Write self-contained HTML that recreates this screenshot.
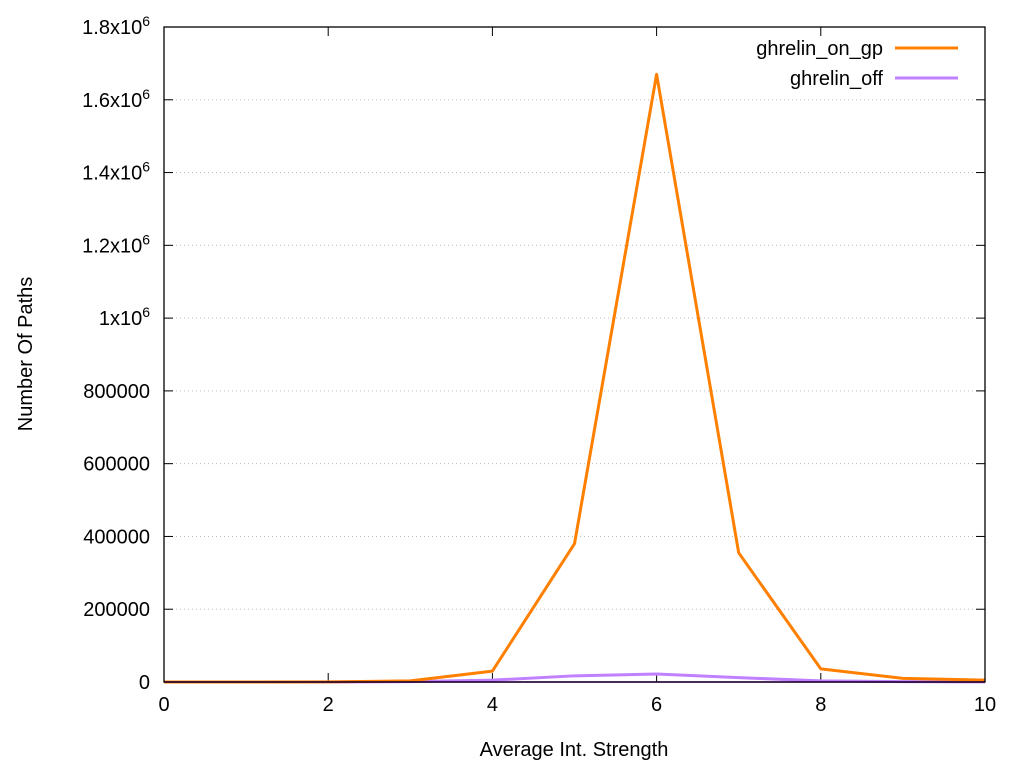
<!DOCTYPE html>
<html><head><meta charset="utf-8"><style>body{margin:0;background:#fff}svg{display:block;font-family:"Liberation Sans",sans-serif}</style></head>
<body>
<svg id="c" width="1024" height="768" xmlns="http://www.w3.org/2000/svg"></svg>
<script>
const xCats=[0,1,2,3,4,5,6,7,8,9,10];
const onGp=[0,0,500,3000,30000,380000,1670000,355000,36000,10000,5000];
const off=[0,0,0,1000,5000,17000,22000,12000,3000,1000,500];
const yTicks=[0,200000,400000,600000,800000,1000000,1200000,1400000,1600000,1800000];
const yLabels=["0","200000","400000","600000","800000","1x10<sup>6</sup>","1.2x10<sup>6</sup>","1.4x10<sup>6</sup>","1.6x10<sup>6</sup>","1.8x10<sup>6</sup>"];
const xTicks=[0,2,4,6,8,10];
const L=164,R=985,T=27,B=682;
const xs=v=>L+(v-0)/10*(R-L), ys=v=>B-v/1800000*(B-T);
const svg=document.getElementById('c');const NS='http://www.w3.org/2000/svg';
function mk(t,a,p){const e=document.createElementNS(NS,t);for(const k in a)e.setAttribute(k,a[k]);(p||svg).appendChild(e);return e;}
yTicks.forEach((v,i)=>{
 if(i>0&&i<yTicks.length-1){const g=mk('line',{x1:L,x2:R,y1:ys(v),y2:ys(v),stroke:'#bbb','stroke-width':1,'stroke-dasharray':'1,3'});
 
 }
 const tk=mk('line',{x1:L,x2:L+9,y1:ys(v),y2:ys(v),stroke:'#000'});
 
 
 mk('line',{x1:R-9,x2:R,y1:ys(v),y2:ys(v),stroke:'#000'});
 const t=mk('text',{x:L-14,y:ys(v)+7,'text-anchor':'end','font-size':20});
 t.innerHTML=yLabels[i].replace('<sup>','<tspan dy="-8" font-size="14">').replace('</sup>','</tspan>');
 
 
});
xTicks.forEach(v=>{
 const tk=mk('line',{x1:xs(v),x2:xs(v),y1:B,y2:B-9,stroke:'#000'});
 
 
 mk('line',{x1:xs(v),x2:xs(v),y1:T,y2:T+9,stroke:'#000'});
 const t=mk('text',{x:xs(v),y:B+29,'text-anchor':'middle','font-size':20});t.textContent=v;
 
 
});
function series(d,col,name){const p=mk('polyline',{points:d.map((v,i)=>xs(xCats[i])+','+ys(v)).join(' '),fill:'none',stroke:col,'stroke-width':3,'stroke-linejoin':'round'});
 
 }
series(off,'#c080ff','series-ghrelin-off');
series(onGp,'#ff8000','series-ghrelin-on-gp');
mk('line',{x1:164,x2:985,y1:B,y2:B,stroke:'#9400d3','stroke-width':1.5});
const fr=mk('rect',{x:L,y:T,width:R-L,height:B-T,fill:'none',stroke:'#000','stroke-width':1.3});


[['ghrelin_on_gp','#ff8000',48],['ghrelin_off','#c080ff',78]].forEach(([n,c,y])=>{
 const t=mk('text',{x:883,y:y+7,'text-anchor':'end','font-size':20});t.textContent=n;
 
 
 const l=mk('line',{x1:895,x2:958,y1:y,y2:y,stroke:c,'stroke-width':3});
 
 
});
const xt=mk('text',{x:574,y:756,'text-anchor':'middle','font-size':20});xt.textContent='Average Int. Strength';


const yt=mk('text',{x:0,y:0,'text-anchor':'middle','font-size':20,transform:'translate(32,354) rotate(-90)'});yt.textContent='Number Of Paths';


</script>
</body></html>
